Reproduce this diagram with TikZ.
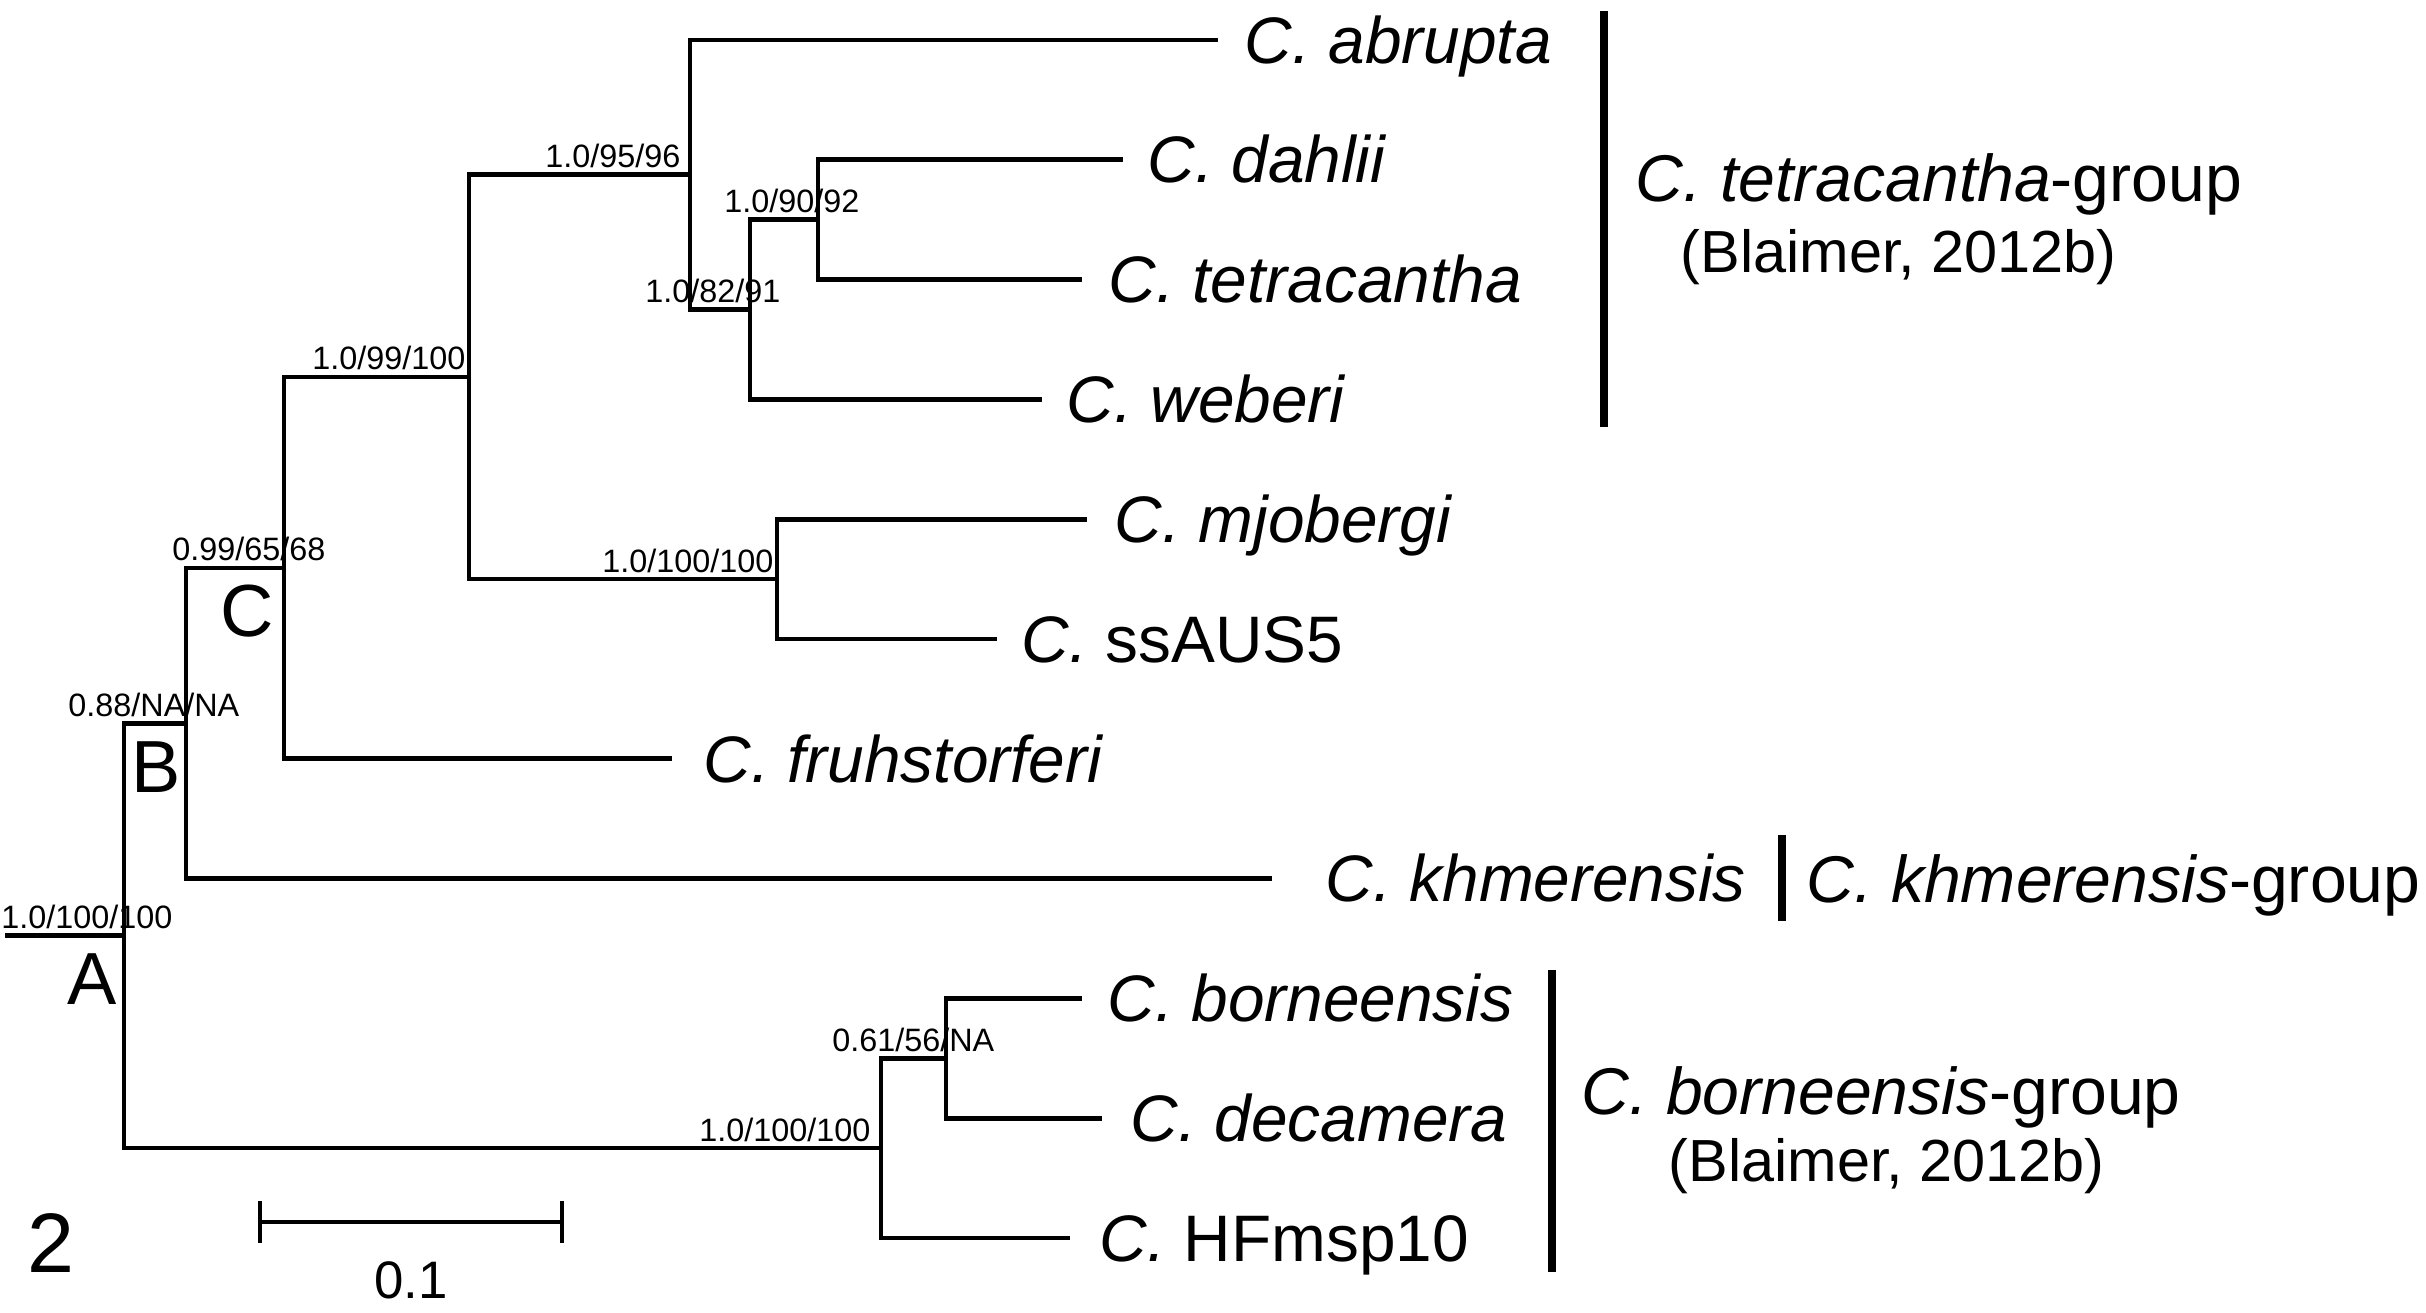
\documentclass[tikz,border=0pt]{standalone}
\usepackage{fontspec}
\setmainfont{Liberation Sans}
\usetikzlibrary{calc}
\begin{document}
\begin{tikzpicture}[x=0.01cm,y=-0.01cm,
  branch/.style={line width=1.35pt,line cap=rect},
  groupbar/.style={line width=2.1pt},
  tiplab/.style={anchor=base west,inner sep=0pt,yshift=-6.6pt,font=\fontsize{18.7pt}{20pt}\selectfont},
  grplab/.style={anchor=base west,inner sep=0pt,yshift=-6.7pt,font=\fontsize{18.8pt}{20pt}\selectfont},
  reflab/.style={anchor=base west,inner sep=0pt,yshift=-6pt,font=\fontsize{16.9pt}{18pt}\selectfont},
  suplab/.style={anchor=base east,inner sep=0pt,yshift=2pt,font=\fontsize{9.2pt}{10pt}\selectfont},
  biglab/.style={anchor=base east,inner sep=0pt,yshift=-19.6pt,font=\fontsize{21pt}{22pt}\selectfont}]
\useasboundingbox (0,0) rectangle (2426,1313);
% internal nodes
\coordinate (root) at (7,935.7);
\coordinate (A) at (124,935.7);
\coordinate (B) at (186,723.2);
\coordinate (C) at (284,567.9);
\coordinate (D) at (469,376.9);
\coordinate (E) at (690,174.8);
\coordinate (F) at (750,309.55);
\coordinate (G) at (818,219.7);
\coordinate (H) at (777,579.1);
\coordinate (I) at (881,1148.1);
\coordinate (J) at (946,1058.3);
% tips
\coordinate (abrupta) at (1216,40);
\coordinate (dahlii) at (1121,159.8);
\coordinate (tetra) at (1080,279.6);
\coordinate (weberi) at (1040,399.4);
\coordinate (mjob) at (1085,519.2);
\coordinate (ssaus) at (995,639);
\coordinate (fruh) at (670,758.8);
\coordinate (khmer) at (1270,878.6);
\coordinate (born) at (1080,998.4);
\coordinate (deca) at (1100,1118.2);
\coordinate (hfm) at (1068,1238);
% branches
\draw[branch] (root) -- (A);
\draw[branch] (A) |- (B);
\draw[branch] (A) |- (I);
\draw[branch] (B) |- (C);
\draw[branch] (B) |- (khmer);
\draw[branch] (C) |- (D);
\draw[branch] (C) |- (fruh);
\draw[branch] (D) |- (E);
\draw[branch] (D) |- (H);
\draw[branch] (E) |- (abrupta);
\draw[branch] (E) |- (F);
\draw[branch] (F) |- (G);
\draw[branch] (F) |- (weberi);
\draw[branch] (G) |- (dahlii);
\draw[branch] (G) |- (tetra);
\draw[branch] (H) |- (mjob);
\draw[branch] (H) |- (ssaus);
\draw[branch] (I) |- (J);
\draw[branch] (I) |- (hfm);
\draw[branch] (J) |- (born);
\draw[branch] (J) |- (deca);
% tip labels
\node[tiplab] (labrupta) at ($(abrupta)+(28,0)$) {\textit{C. abrupta}};
\node[tiplab] (ldahlii) at ($(dahlii)+(26,0)$) {\textit{C. dahlii}};
\node[tiplab] (ltetra) at ($(tetra)+(28,0)$) {\textit{C. tetracantha}};
\node[tiplab] (lweberi) at ($(weberi)+(26,0)$) {\textit{C. weberi}};
\node[tiplab] (lmjob) at ($(mjob)+(29,0)$) {\textit{C. mjobergi}};
\node[tiplab] (lssaus) at ($(ssaus)+(26,0)$) {\textit{C.} ssAUS5};
\node[tiplab] (lfruh) at ($(fruh)+(33,0)$) {\textit{C. fruhstorferi}};
\node[tiplab] (lkhmer) at ($(khmer)+(55,0)$) {\textit{C. khmerensis}};
\node[tiplab] (lborn) at ($(born)+(27,0)$) {\textit{C. borneensis}};
\node[tiplab] (ldeca) at ($(deca)+(30,0)$) {\textit{C. decamera}};
\node[tiplab] (lhfm) at ($(hfm)+(31,0)$) {\textit{C.} HFmsp10};
% support values
\node[suplab] (sA) at (173,935.7) {1.0/100/100};
\node[suplab] (sB) at (240,723.2) {0.88/NA/NA};
\node[suplab] (sC) at (326,567.9) {0.99/65/68};
\node[suplab] (sD) at (466,376.9) {1.0/99/100};
\node[suplab] (sE) at (681,174.8) {1.0/95/96};
\node[suplab] (sF) at (781,309.55) {1.0/82/91};
\node[suplab] (sG) at (860,219.7) {1.0/90/92};
\node[suplab] (sH) at (774,579.1) {1.0/100/100};
\node[suplab] (sI) at (871,1148.1) {1.0/100/100};
\node[suplab] (sJ) at (995,1058.3) {0.61/56/NA};
% big letters
\node[biglab] (letA) at ($(A)+(-7,0)$) {A};
\node[biglab] (letB) at ($(B)+(-5,0)$) {B};
\node[biglab] (letC) at ($(C)+(-9,0)$) {C};
% group bars and labels
\coordinate (tgTop) at (1604,11);
\coordinate (tgBot) at (1604,427);
\draw[groupbar] (tgTop) -- (tgBot);
\node[grplab] (tg1) at (1635,178) {\textit{C. tetracantha}-group};
\node[reflab] (tg2) at (1680,251) {(Blaimer, 2012b)};
\coordinate (kgTop) at (1782,835);
\coordinate (kgBot) at (1782,921);
\draw[groupbar] (kgTop) -- (kgBot);
\node[grplab] (kg1) at (1806,878.6) {\textit{C. khmerensis}-group};
\coordinate (bgTop) at (1552,970);
\coordinate (bgBot) at (1552,1272);
\draw[groupbar] (bgTop) -- (bgBot);
\node[grplab] (bg1) at (1581,1091) {\textit{C. borneensis}-group};
\node[reflab] (bg2) at (1668,1160) {(Blaimer, 2012b)};
% scale bar
\coordinate (sbL) at (260,1222);
\coordinate (sbR) at (562,1222);
\draw[branch,line cap=butt] (sbL) -- (sbR);
\draw[branch,line cap=butt] ($(sbL)+(0,-21)$) -- ($(sbL)+(0,21)$);
\draw[branch,line cap=butt] ($(sbR)+(0,-21)$) -- ($(sbR)+(0,21)$);
\node[anchor=base,inner sep=0pt,font=\fontsize{15pt}{16pt}\selectfont] (sblab) at (411,1298) {0.1};
\node[anchor=base,inner sep=0pt,font=\fontsize{24pt}{25pt}\selectfont] (fignum) at (51,1272) {2};
\end{tikzpicture}
\end{document}
